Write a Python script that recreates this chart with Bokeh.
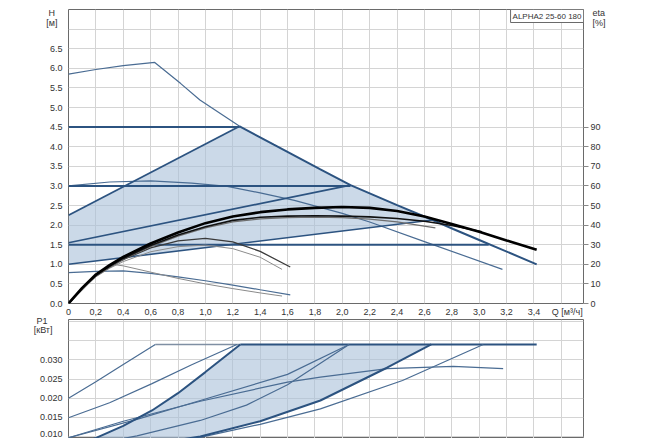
from bokeh.plotting import figure
from bokeh.models import Range1d, LinearAxis, FixedTicker, Label
from bokeh.layouts import column
from bokeh.embed import file_html
from bokeh.resources import INLINE

# ---------------- data ----------------
q_ticks = [0, 0.2, 0.4, 0.6, 0.8, 1.0, 1.2, 1.4, 1.6, 1.8, 2.0, 2.2, 2.4, 2.6, 2.8, 3.0, 3.2, 3.4]
q_labels = ["0", "0,2", "0,4", "0,6", "0,8", "1,0", "1,2", "1,4", "1,6", "1,8", "2,0",
            "2,2", "2,4", "2,6", "2,8", "3,0", "3,2", "3,4"]
q_grid = q_ticks + [3.6]
q_title_pos = 3.643
q_title = "Q [м³/ч]"

h_ticks = [0.0, 0.5, 1.0, 1.5, 2.0, 2.5, 3.0, 3.5, 4.0, 4.5, 5.0, 5.5, 6.0, 6.5]
h_labels = ["0.0", "0.5", "1.0", "1.5", "2.0", "2.5", "3.0", "3.5", "4.0", "4.5", "5.0", "5.5", "6.0", "6.5"]
h_grid = h_ticks + [7.0]
h_title_pos = [7.41, 7.16]
h_title = ["H", "[м]"]
eta_ticks = [0, 10, 20, 30, 40, 50, 60, 70, 80, 90]
eta_title_pos = [148.2, 143.2]
eta_title = ["eta", "[%]"]
p_ticks = [0.010, 0.015, 0.020, 0.025, 0.030]
p_labels = ["0.010", "0.015", "0.020", "0.025", "0.030"]
p_grid = p_ticks + [0.035, 0.040]
p_title_pos = [0.04005, 0.03781]
p_title = ["P1", "[кВт]"]
chart_title = "ALPHA2 25-60 180"

# H-Q curves [m]
q_max = [0, 0.2, 0.4, 0.63, 0.82, 0.96, 1.25, 1.5, 1.84, 2.06, 2.4, 2.66, 2.81, 3.0, 3.42]
h_max = [5.85, 5.97, 6.07, 6.15, 5.61, 5.19, 4.52, 4.05, 3.42, 3.02, 2.51, 2.13, 1.9, 1.62, 1.0]
q_s2 = [0, 0.3, 0.6, 0.9, 1.16, 1.4, 1.65, 2.0, 2.2, 2.6, 3.17]
h_s2 = [3.0, 3.1, 3.13, 3.07, 2.99, 2.82, 2.63, 2.3, 2.08, 1.58, 0.87]
q_s1 = [0, 0.2, 0.4, 0.6, 0.8, 1.0, 1.2, 1.4, 1.62]
h_s1 = [0.79, 0.82, 0.83, 0.77, 0.68, 0.58, 0.47, 0.35, 0.22]
q_g1 = [0.32, 0.4, 0.6, 0.8, 1.0, 1.2, 1.4, 1.56]
h_g1 = [1.0, 0.96, 0.8, 0.64, 0.5, 0.38, 0.27, 0.19]
q_pp_hi = [0, 1.25]
h_pp_hi = [2.25, 4.52]
q_pp_mid = [0, 2.06]
h_pp_mid = [1.55, 3.02]
q_pp_lo = [0, 2.66]
h_pp_lo = [1.0, 2.13]
q_cp45 = [0, 1.25]
h_cp45 = [4.5, 4.5]
q_cp30 = [0, 2.06]
h_cp30 = [3.0, 3.0]
q_cp15 = [0, 3.07]
h_cp15 = [1.5, 1.5]

# efficiency curves [%]
q_e1 = [0, 0.1, 0.2, 0.3, 0.4, 0.6, 0.8, 1.0, 1.2, 1.4, 1.6, 1.8, 2.0, 2.2, 2.4, 2.6, 2.8, 3.0, 3.2, 3.42]
eta_e1 = [0, 8, 14.8, 19.6, 23.8, 30.6, 36.2, 41, 44.4, 46.6, 48, 48.8, 49.2, 48.8, 47.2, 44.4, 40.6, 36.6, 32.2, 27.4]
q_e2 = [0, 0.1, 0.2, 0.3, 0.4, 0.6, 0.8, 1.0, 1.2, 1.4, 1.6, 1.8, 2.0, 2.2, 2.4, 2.6, 2.8, 3.02]
eta_e2 = [0, 7.8, 14.4, 19, 23, 29.6, 35, 39.2, 42.4, 44, 44.6, 44.8, 44.6, 44.2, 43.4, 42, 39.8, 36.6]
q_e3 = [0, 0.2, 0.4, 0.6, 0.8, 1.0, 1.2, 1.4, 1.6, 1.8, 2.0, 2.2, 2.4, 2.68]
eta_e3 = [0, 14, 22.6, 29, 34.4, 38.6, 41.6, 43.2, 43.8, 44, 43.8, 43, 41.6, 38.6]
q_e4 = [0, 0.1, 0.2, 0.3, 0.4, 0.6, 0.8, 1.0, 1.2, 1.4, 1.62]
eta_e4 = [0, 7.6, 14, 18.6, 22.4, 28.4, 32, 33.2, 31.4, 26.6, 18.6]
q_e5 = [0, 0.1, 0.2, 0.3, 0.4, 0.6, 0.8, 1.0, 1.2, 1.4, 1.56]
eta_e5 = [0, 7.4, 13.6, 18, 21.4, 26.4, 29, 29.8, 28, 23.6, 17.4]

# P1 curves [kW]
p1_limit = 0.034
q_lim_thin = [0.634, 1.255]
q_lim_thick = [1.255, 3.42]
q_pw_s3 = [0, 0.2, 0.4, 0.634]
p_pw_s3 = [0.0200, 0.0243, 0.0288, 0.034]
q_pw_45 = [0, 0.3, 0.61, 0.9, 1.23]
p_pw_45 = [0.0149, 0.0188, 0.0238, 0.0287, 0.034]
q_pw_hi = [0.05, 0.21, 0.4, 0.61, 0.8, 1.0, 1.255]
p_pw_hi = [0.0075, 0.0098, 0.0128, 0.0168, 0.0213, 0.0268, 0.034]
q_pw_lo = [0.5, 0.963, 1.4, 1.84, 2.33, 2.65]
p_pw_lo = [0.0075, 0.0100, 0.0140, 0.0194, 0.0280, 0.034]
q_pw_30 = [0, 0.5, 0.963, 1.6, 2.05]
p_pw_30 = [0.0097, 0.0145, 0.0194, 0.0262, 0.034]
q_pw_mid = [0.3, 0.5, 0.963, 1.3, 1.6, 2.05]
p_pw_mid = [0.0088, 0.0102, 0.0142, 0.0182, 0.0235, 0.034]
q_pw_s2 = [0, 0.4, 0.963, 1.6, 1.84, 2.33, 2.81, 3.175]
p_pw_s2 = [0.0097, 0.0140, 0.0192, 0.0242, 0.0255, 0.0277, 0.0283, 0.0277]
q_pw_15 = [0.85, 0.963, 1.4, 1.84, 2.44, 3.03]
p_pw_15 = [0.0090, 0.0098, 0.0132, 0.0172, 0.0246, 0.034]

# ---------------- style ----------------
FONT = "Liberation Sans"
TXT = "#333333"
GRID = "#d4d4d4"
BORDER = "#6a6a6a"
THICK = "#2c5380"
THIN = "#4a6c93"
FILL = "#a9bfd8"
NB = "\u00a0"

x_range = Range1d(0, 3.762)


def style_axis(ax, tick_out=0):
    ax.axis_line_color = None
    ax.major_tick_line_color = "#888888" if tick_out else None
    ax.minor_tick_line_color = None
    ax.major_tick_out = tick_out
    ax.major_tick_in = 0
    ax.major_label_text_font = FONT
    ax.major_label_text_font_size = "9px"
    ax.major_label_text_color = TXT


def style(p):
    p.outline_line_color = BORDER
    p.outline_line_width = 1
    p.background_fill_color = "white"
    p.border_fill_color = "white"
    for g in p.grid:
        g.grid_line_color = GRID
        g.grid_line_width = 1
    for ax in p.axis:
        style_axis(ax)


# ---------------- upper: H / eta ----------------
p1 = figure(width=638, height=319, x_range=x_range, y_range=Range1d(0, 7.5),
            output_backend="svg", toolbar_location=None,
            min_border_left=68, min_border_right=55, min_border_top=9, min_border_bottom=16)
p1.extra_y_ranges = {"eta": Range1d(0, 150)}
style(p1)
p1.xaxis.ticker = FixedTicker(ticks=q_ticks + [q_title_pos])
p1.xaxis.major_label_overrides = dict(zip(q_ticks + [q_title_pos], q_labels + [q_title]))
p1.xaxis.major_label_standoff = 3
p1.xgrid.ticker = FixedTicker(ticks=q_grid)
p1.yaxis.ticker = FixedTicker(ticks=h_ticks + h_title_pos)
p1.yaxis.major_label_overrides = dict(zip(h_ticks + h_title_pos,
                                          h_labels + [h_title[0] + NB * 3, h_title[1] + NB * 2]))
p1.yaxis.major_label_standoff = 6
p1.ygrid.ticker = FixedTicker(ticks=h_grid)

eta_ax = LinearAxis(y_range_name="eta", ticker=FixedTicker(ticks=eta_ticks))
style_axis(eta_ax, tick_out=5)
eta_ax.major_label_standoff = 2
p1.add_layout(eta_ax, "right")
eta_title_ax = LinearAxis(y_range_name="eta", ticker=FixedTicker(ticks=eta_title_pos),
                          major_label_overrides=dict(zip(eta_title_pos, eta_title)))
style_axis(eta_title_ax)
eta_title_ax.major_label_standoff = -11
p1.add_layout(eta_title_ax, "right")

# shaded AUTOADAPT area
i0 = q_max.index(q_pp_hi[-1])
i1 = q_max.index(q_pp_lo[-1])
shade_x = [q_pp_lo[0], q_pp_hi[0]] + q_max[i0:i1 + 1] + [q_pp_lo[0]]
shade_y = [h_pp_lo[0], h_pp_hi[0]] + h_max[i0:i1 + 1] + [h_pp_lo[0]]
p1.patch(shade_x, shade_y, fill_color=FILL, fill_alpha=0.6, line_color=None)

p1.line(q_max[:i0 + 1], h_max[:i0 + 1], line_color=THIN, line_width=1.2)
p1.line(q_max[i0:], h_max[i0:], line_color=THICK, line_width=2)
p1.line(q_s2, h_s2, line_color=THIN, line_width=1.2)
p1.line(q_s1, h_s1, line_color=THIN, line_width=1.2)
p1.line(q_g1, h_g1, line_color="#8a8a8a", line_width=1)
for qx, hy, w in [(q_pp_hi, h_pp_hi, 1.8), (q_pp_mid, h_pp_mid, 1.6), (q_pp_lo, h_pp_lo, 1.6),
                  (q_cp45, h_cp45, 2), (q_cp30, h_cp30, 2), (q_cp15, h_cp15, 2)]:
    p1.line(qx, hy, line_color=THICK, line_width=w)

p1.line(q_e5, eta_e5, y_range_name="eta", line_color="#8c8c8c", line_width=1)
p1.line(q_e4, eta_e4, y_range_name="eta", line_color="#3a3a3a", line_width=1.3)
p1.line(q_e3, eta_e3, y_range_name="eta", line_color="#6e6e6e", line_width=1.2)
p1.line(q_e2, eta_e2, y_range_name="eta", line_color="#111111", line_width=1.6)
p1.line(q_e1, eta_e1, y_range_name="eta", line_color="#000000", line_width=2.6)

p1.add_layout(Label(x=x_range.end, y=7.5, text=chart_title, text_font=FONT, text_font_size="8px",
                    text_color=TXT, text_align="right", text_baseline="top",
                    x_offset=0, y_offset=0, padding=2,
                    border_line_color=BORDER, background_fill_color="white"))

# ---------------- lower: P1 (overlaps the upper canvas by 8px, transparent border) ----------------
p2 = figure(width=638, height=127, x_range=x_range, y_range=Range1d(0.0095, 0.0405),
            output_backend="svg", toolbar_location=None,
            min_border_left=68, min_border_right=55, min_border_top=8, min_border_bottom=0)
style(p2)
p2.margin = (-8, 0, 0, 0)
p2.border_fill_alpha = 0
p2.xaxis.visible = False
p2.xgrid.ticker = FixedTicker(ticks=q_grid)
p2.yaxis.ticker = FixedTicker(ticks=p_ticks + p_title_pos)
p2.yaxis.major_label_overrides = dict(zip(p_ticks + p_title_pos,
                                          p_labels + [p_title[0] + NB * 6, p_title[1] + NB * 4]))
p2.yaxis.major_label_standoff = 6
p2.ygrid.ticker = FixedTicker(ticks=p_grid)

pw_shade_x = q_pw_hi + q_lim_thick[:1] + q_pw_lo[::-1]
pw_shade_y = p_pw_hi + [p1_limit] + p_pw_lo[::-1]
p2.patch(pw_shade_x, pw_shade_y, fill_color=FILL, fill_alpha=0.6, line_color=None)

p2.line(q_lim_thin, [p1_limit] * len(q_lim_thin), line_color="#7f8fa3", line_width=1.6)
p2.line(q_lim_thick, [p1_limit] * len(q_lim_thick), line_color=THICK, line_width=2)
for qx, py in [(q_pw_s3, p_pw_s3), (q_pw_45, p_pw_45), (q_pw_30, p_pw_30),
               (q_pw_mid, p_pw_mid), (q_pw_s2, p_pw_s2), (q_pw_15, p_pw_15)]:
    p2.line(qx, py, line_color=THIN, line_width=1.2)
p2.line(q_pw_hi, p_pw_hi, line_color=THICK, line_width=2)
p2.line(q_pw_lo, p_pw_lo, line_color=THICK, line_width=2)

layout = column(p1, p2, spacing=0)
open("out.html", "w").write(file_html(layout, INLINE))
